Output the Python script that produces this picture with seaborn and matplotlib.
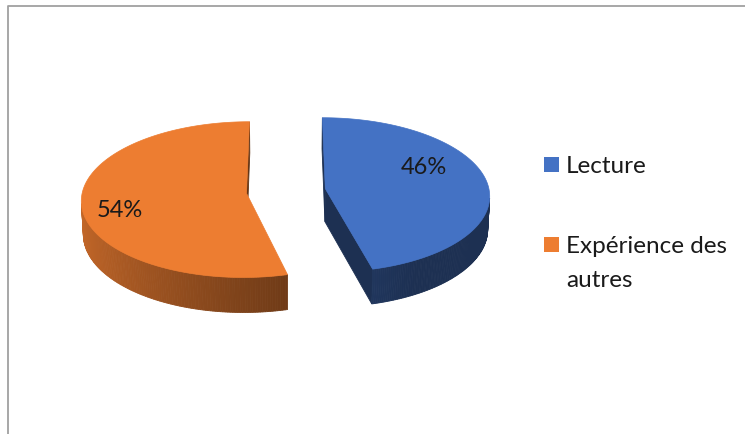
import numpy as np
import matplotlib
matplotlib.use("Agg")
import matplotlib.pyplot as plt
from matplotlib.patches import Polygon, Rectangle
import seaborn as sns

# ---- data ----
categories = ["Lecture", "Expérience des\nautres"]
shares = [46, 54]
colors = ["#4472C4", "#ED7D31"]

sns.set_theme(style="white")
plt.rcParams["font.family"] = ["Lato", "DejaVu Sans"]

W, H = 745, 435
fig = plt.figure(figsize=(W / 100, H / 100), dpi=100)
ax = fig.add_axes([0, 0, 1, 1])
ax.set_xlim(0, W)
ax.set_ylim(H, 0)
ax.axis("off")

# ---- 3D pie projection parameters ----
phi = np.radians(28)      # elevation of the camera
D = 11.0                  # camera distance (in pie radii)
thick = 0.23              # slab thickness
explode = 0.242           # explosion distance
S = 164.0                 # pixels per radius at centre depth
cx0, cy0 = 286.0, 192.0   # screen position of the pie centre

cam = D * np.array([0.0, np.sin(phi), -np.cos(phi)])
fwd = np.array([0.0, -np.sin(phi), np.cos(phi)])
up = np.array([0.0, np.cos(phi), np.sin(phi)])
light = np.array([-1.0, 0.0, 0.3])
light /= np.linalg.norm(light)


def project(p):
    rel = np.asarray(p) - cam
    cz = rel @ fwd
    sx = D * rel[0] / cz
    sy = D * (rel @ up) / cz
    return cx0 + S * sx, cy0 - S * sy


def depth(p):
    return (np.asarray(p) - cam) @ fwd


def shade(color, f):
    rgb = np.array(matplotlib.colors.to_rgb(color))
    return tuple(np.clip(rgb * f, 0, 1))


def facing(normal, point):
    return np.dot(normal, cam - np.asarray(point)) > 0


fracs = np.array(shares) / np.sum(shares)
starts = np.concatenate([[0], np.cumsum(fracs)[:-1]]) * 2 * np.pi
ends = np.cumsum(fracs) * 2 * np.pi

label_frac = [0.39, 0.46]
label_r = [0.69, 0.78]

for i, (t0, t1, col) in enumerate(zip(starts, ends, colors)):
    mid = 0.5 * (t0 + t1)
    ox, oz = explode * np.sin(mid), explode * np.cos(mid)

    def pt(r, th, y):
        return np.array([ox + r * np.sin(th), y, oz + r * np.cos(th)])

    faces = []  # (depth, polygon, colour)
    ths = np.linspace(t0, t1, 240)
    # outer curved wall, lit from the left
    for a, b in zip(ths[:-1], ths[1:]):
        m = 0.5 * (a + b)
        n = np.array([np.sin(m), 0.0, np.cos(m)])
        quad = [pt(1, a, 0), pt(1, b, 0), pt(1, b, -thick), pt(1, a, -thick)]
        c = np.mean(quad, axis=0)
        if facing(n, c):
            f = max(0.42, 0.6 + 0.25 * np.dot(n, light))
            faces.append((depth(c), [project(q) for q in quad], shade(col, f)))
    # radial faces
    for th, n in [
        (t0, np.array([-np.cos(t0), 0.0, np.sin(t0)])),
        (t1, np.array([np.cos(t1), 0.0, -np.sin(t1)])),
    ]:
        quad = [pt(0, th, 0), pt(1, th, 0), pt(1, th, -thick), pt(0, th, -thick)]
        c = np.mean(quad, axis=0)
        if facing(n, c):
            faces.append((depth(c), [project(q) for q in quad], shade(col, 0.42)))

    faces.sort(key=lambda x: -x[0])
    for _, poly, fc in faces:
        ax.add_patch(Polygon(poly, closed=True, facecolor=fc, edgecolor=fc,
                             linewidth=0.6, antialiased=True))

    # top face
    top = [project(pt(0, 0, 0))] + [project(pt(1, th, 0)) for th in ths]
    ax.add_patch(Polygon(top, closed=True, facecolor=col, edgecolor=col,
                         linewidth=0.5))

    # percentage label
    lt = t0 + label_frac[i] * (t1 - t0)
    lx, ly = project(pt(label_r[i], lt, 0))
    ax.text(lx, ly, f"{shares[i]}%", ha="center", va="center",
            fontsize=17, color="#1a1a1a")

# ---- legend ----
leg_x = 544
leg_baselines = [173, 253]
line_step = 34
for cat, col, yb in zip(categories, colors, leg_baselines):
    ax.add_patch(Rectangle((leg_x, yb - 15), 15, 15, facecolor=col,
                           edgecolor="none"))
    for k, line in enumerate(cat.split("\n")):
        ax.text(leg_x + 22, yb + k * line_step, line, ha="left",
                va="baseline", fontsize=17.5, color="#1a1a1a")

# ---- chart area border ----
ax.plot([8, 8, W], [H, 6.5, 6.5], color="#A0A0A0", linewidth=1.3,
        solid_capstyle="butt")

fig.savefig("out.png", dpi=100, facecolor="white")
